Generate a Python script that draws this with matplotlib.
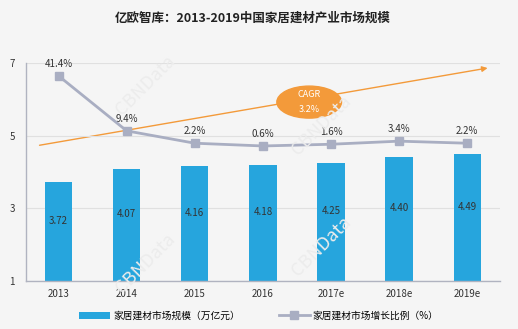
import matplotlib.pyplot as plt
from matplotlib.patches import Ellipse

plt.rcParams['font.family'] = ['Noto Sans CJK SC', 'DejaVu Sans']

years = ['2013', '2014', '2015', '2016', '2017e', '2018e', '2019e']
market_size = [3.72, 4.07, 4.16, 4.18, 4.25, 4.40, 4.49]
growth_pct = [41.4, 9.4, 2.2, 0.6, 1.6, 3.4, 2.2]
growth_labels = ['41.4%', '9.4%', '2.2%', '0.6%', '1.6%', '3.4%', '2.2%']
yticks = [1, 3, 5, 7]

bar_color = '#26a5dd'
line_color = '#a9aec2'
orange = '#f39a3a'
bg = '#f5f5f5'

fig = plt.figure(figsize=(5.18, 3.29), dpi=100, facecolor=bg)
ax = fig.add_axes([0.050, 0.146, 0.915, 0.663])
ax.set_facecolor(bg)

x = list(range(len(years)))
bars = ax.bar(x, market_size, width=0.4, color=bar_color, zorder=2,
              label='家居建材市场规模（万亿元）')
for xi, v in zip(x, market_size):
    ax.text(xi, (1 + v) / 2 + 0.3, f'{v:.2f}', ha='center', va='center',
            fontsize=7, color='#333333', zorder=3)

ax.set_ylim(1, 7)
ax.set_xlim(-0.48, 6.48)
ax.set_yticks(yticks)
ax.set_xticks(x)
ax.set_xticklabels(years)
ax.tick_params(axis='both', length=0, labelsize=7, colors='#333333')
ax.tick_params(axis='y', pad=8)
ax.tick_params(axis='x', pad=6)
ax.grid(axis='y', color='#e0e0e0', linewidth=0.8, zorder=0)
for s in ['top', 'right']:
    ax.spines[s].set_visible(False)
for s in ['left', 'bottom']:
    ax.spines[s].set_color('#b0b3c0')
    ax.spines[s].set_linewidth(1.0)

# CAGR arrow and ellipse
ax.annotate('', xy=(6.34, 6.87), xytext=(-0.32, 4.72),
            arrowprops=dict(arrowstyle='-|>', color=orange, lw=1.0,
                            mutation_scale=8), zorder=1)
ax.add_patch(Ellipse((3.68, 5.92), 0.95, 0.88, color=orange, zorder=4))
ax.text(3.68, 6.12, 'CAGR', ha='center', va='center', fontsize=6.5,
        color='white', zorder=5)
ax.text(3.68, 5.72, '3.2%', ha='center', va='center', fontsize=6.5,
        color='white', zorder=5)

ax2 = ax.twinx()
ax2.set_ylim(-78, 49)
ax2.axis('off')
line, = ax2.plot(x, growth_pct, color=line_color, lw=2, marker='s',
                 markersize=6, zorder=6, label='家居建材市场增长比例（%）')
for xi, v, lab in zip(x, growth_pct, growth_labels):
    ax2.text(xi, v + 4, lab, ha='center', va='bottom', fontsize=7,
             color='#333333')

# faint watermarks
for wx, wy in [(0.28, 0.74), (0.62, 0.62), (0.28, 0.2), (0.62, 0.25)]:
    fig.text(wx, wy, 'CBNData', rotation=45, fontsize=13, color='#ececec',
             ha='center', va='center', zorder=0)

fig.legend(handles=[bars, line], loc='center', bbox_to_anchor=(0.5, 0.04),
           ncol=2, frameon=False, fontsize=7, handlelength=3.2,
           columnspacing=4, handletextpad=0.3)

fig.text(0.487, 0.944, '亿欧智库：2013-2019中国家居建材产业市场规模',
         ha='center', va='center', fontsize=9, fontweight='bold',
         color='#222222')

fig.savefig('out.png', dpi=100, facecolor=bg)
